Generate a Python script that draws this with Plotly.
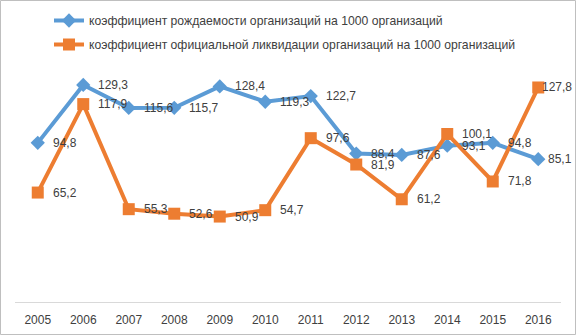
import plotly.graph_objects as go

years = ["2005", "2006", "2007", "2008", "2009", "2010", "2011", "2012", "2013", "2014", "2015", "2016"]
birth = [94.8, 129.3, 115.6, 115.7, 128.4, 119.3, 122.7, 88.4, 87.6, 93.1, 94.8, 85.1]
liquid = [65.2, 117.9, 55.3, 52.6, 50.9, 54.7, 97.6, 81.9, 61.2, 100.1, 71.8, 127.8]
name_birth = "коэффициент рождаемости организаций на 1000 организаций"
name_liquid = "коэффициент официальной ликвидации организаций на 1000 организаций"

def fmt(v):
    return f"{v:.1f}".replace(".", ",")

font = "Liberation Sans"
fig = go.Figure()
fig.add_trace(go.Scatter(
    x=years, y=birth, name=name_birth, mode="lines+markers", legendgroup="a",
    line=dict(color="#5B9BD5", width=4),
    marker=dict(symbol="diamond", size=11, color="#5B9BD5"),
    cliponaxis=False,
))
fig.add_trace(go.Scatter(
    x=years, y=liquid, name=name_liquid, mode="lines+markers", legendgroup="b",
    line=dict(color="#ED7D31", width=4),
    marker=dict(symbol="square", size=12, color="#ED7D31"),
    cliponaxis=False,
))

last_shift = {0: 8, 1: 2}  # labels at the right edge sit closer to their marks
for k, series in enumerate((birth, liquid)):
    for i, v in enumerate(series):
        shift = last_shift[k] if i == len(series) - 1 else 13
        fig.add_annotation(x=i, y=v, text=fmt(v), showarrow=False,
                           xanchor="left", yanchor="middle", xshift=shift,
                           font=dict(size=12, color="#404040", family=font))

W, H = 577, 336
l, r, t, b = 15, 16, 67, 34
pw, ph = W - l - r, H - t - b
fig.add_shape(type="rect", xref="paper", yref="paper",
              x0=(0.5 - l) / pw, x1=(W - 1.5 - l) / pw,
              y0=(H - b - (H - 1.5)) / ph, y1=(H - b - 0.5) / ph,
              line=dict(color="#BFBFBF", width=1), layer="above")

fig.update_layout(
    width=W, height=H, margin=dict(l=l, r=r, t=t, b=b, autoexpand=False),
    paper_bgcolor="white", plot_bgcolor="white",
    font=dict(family=font, size=12, color="#404040"),
    showlegend=True,
    legend=dict(xref="container", yref="container", x=49 / W, y=1 - 6 / H,
                xanchor="left", yanchor="top", traceorder="grouped",
                orientation="v", font=dict(size=12.2, color="#404040", family=font),
                tracegroupgap=5, bgcolor="rgba(0,0,0,0)"),
    xaxis=dict(type="category", showgrid=False, showline=True, linecolor="#D9D9D9",
               linewidth=1, ticks="", ticklabelstandoff=7,
               tickfont=dict(size=12, color="#404040", family=font),
               range=[-0.5, 11.5], zeroline=False),
    yaxis=dict(range=[0, 140], visible=False, showgrid=False, zeroline=False),
)
fig.write_html("out.html", config={"displayModeBar": False},
               post_script="document.body.style.margin='0';document.body.style.padding='0';")
